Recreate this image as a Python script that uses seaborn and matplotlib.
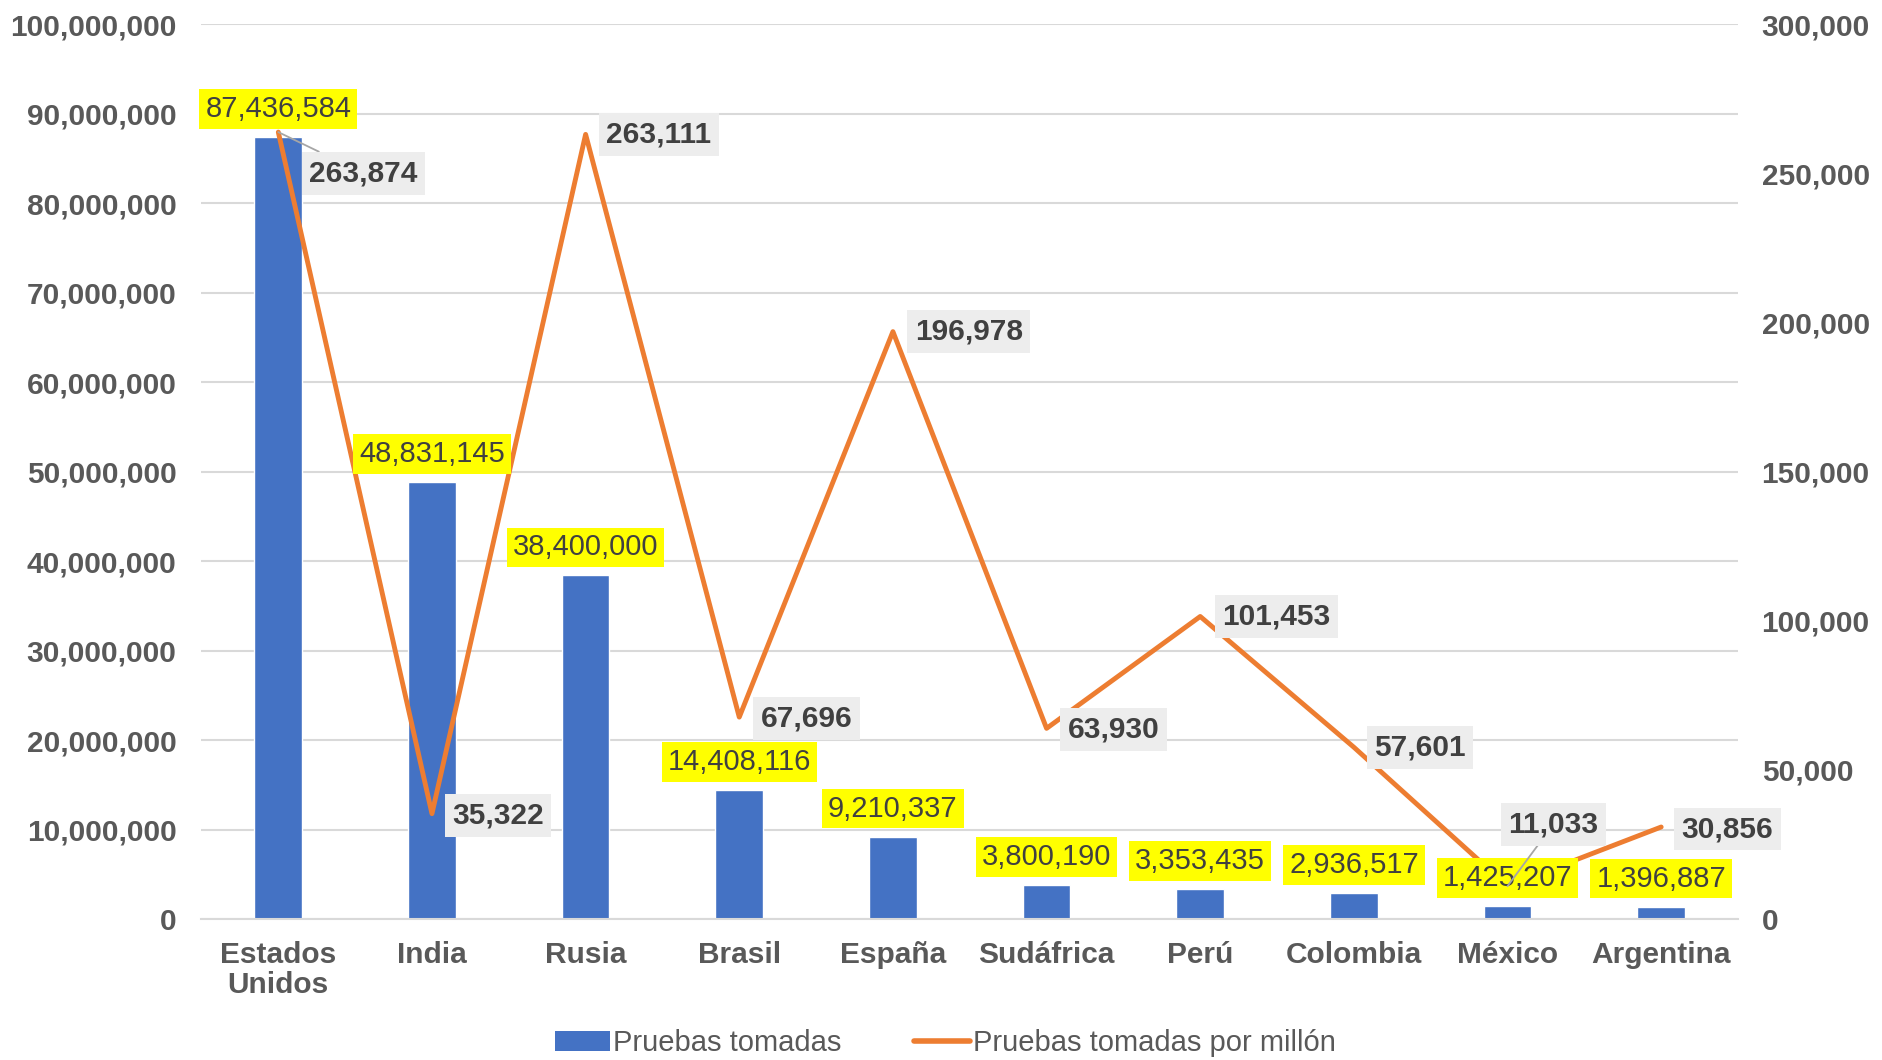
import numpy as np
import matplotlib
matplotlib.use("Agg")
import matplotlib.pyplot as plt
import seaborn as sns
from matplotlib.patches import Patch
from matplotlib.lines import Line2D
from matplotlib.ticker import FuncFormatter, MultipleLocator

# datos
paises = ["Estados\nUnidos", "India", "Rusia", "Brasil", "España",
          "Sudáfrica", "Perú", "Colombia", "México", "Argentina"]
pruebas = [87436584, 48831145, 38400000, 14408116, 9210337,
           3800190, 3353435, 2936517, 1425207, 1396887]
por_millon = [263874, 35322, 263111, 67696, 196978,
              63930, 101453, 57601, 11033, 30856]

# desplazamiento (pixeles) de las etiquetas grises de la linea
desp_linea = [(85, -41), (66, -2), (73, 0), (67, -1), (76, 0),
              (67, -1), (76, 0), (66, 0), (46, 62), (66, -2)]

sns.set_style("white")
plt.rcParams["font.family"] = ["Liberation Sans", "DejaVu Sans"]

azul = "#4472C4"
naranja = "#ED7D31"
gris_txt = "#595959"

fig = plt.figure(figsize=(18.83, 10.6), dpi=100)
ax = fig.add_axes([0.107, 0.133, 0.816, 0.844])

################ barras ################
sns.barplot(x=paises, y=pruebas, color=azul, width=0.31, saturation=1, ax=ax, zorder=2)
ax.set_ylim(0, 100_000_000)
ax.set_xlim(-0.5, len(paises) - 0.5)
ax.yaxis.set_major_locator(MultipleLocator(10_000_000))
ax.yaxis.set_major_formatter(FuncFormatter(lambda v, p: f"{int(v):,}"))
ax.grid(axis="y", color="#D9D9D9", lw=1.5, zorder=0)
ax.set_axisbelow(True)
for s in ["left", "right", "top"]:
    ax.spines[s].set_visible(False)
ax.spines["bottom"].set_color("#D9D9D9")
ax.spines["bottom"].set_linewidth(1.5)
ax.tick_params(axis="y", length=0, pad=18, labelsize=21.5, labelcolor=gris_txt)
ax.tick_params(axis="x", length=0, pad=16, labelsize=21.5, labelcolor=gris_txt)
for t in ax.get_yticklabels() + ax.get_xticklabels():
    t.set_fontweight("bold")
for t in ax.get_xticklabels():
    t.set_linespacing(1.1)
ax.set_xlabel("")
ax.set_ylabel("")

################ linea ################
ax2 = ax.twinx()
sns.lineplot(x=np.arange(len(paises)), y=por_millon, color=naranja, lw=3.5, sort=False, ax=ax2)
ax2.set_ylim(0, 300_000)
ax2.yaxis.set_major_locator(MultipleLocator(50_000))
ax2.yaxis.set_major_formatter(FuncFormatter(lambda v, p: f"{int(v):,}"))
for s in ["left", "right", "top", "bottom"]:
    ax2.spines[s].set_visible(False)
ax2.tick_params(axis="y", length=0, pad=17, labelsize=21.5, labelcolor=gris_txt)
for t in ax2.get_yticklabels():
    t.set_fontweight("bold")
ax2.set_ylabel("")

# etiquetas grises de la linea
for i, v in enumerate(por_millon):
    dx, dy = desp_linea[i]
    flecha = None
    if i in (0, 8):
        flecha = dict(arrowstyle="-", color="#A6A6A6", lw=1.3, shrinkA=0, shrinkB=0)
    ax2.annotate(f"{v:,}", xy=(i, v), xytext=(dx, dy), textcoords="offset pixels",
                 ha="center", va="center", fontsize=21.5, fontweight="bold", color="#404040",
                 bbox=dict(boxstyle="square,pad=0.25", fc="#EDEDED", ec="none"),
                 arrowprops=flecha, zorder=5)

# etiquetas amarillas de las barras
for i, v in enumerate(pruebas):
    ax2.annotate(f"{v:,}", xy=(i, v), xycoords=ax.transData, xytext=(0, 28),
                 textcoords="offset pixels", ha="center", va="center",
                 fontsize=21, color="#404040",
                 bbox=dict(boxstyle="square,pad=0.2", fc="#FFFF00", ec="none"), zorder=4)

################ leyenda ################
manijas = [Patch(facecolor=azul, edgecolor="none"),
           Line2D([0], [0], color=naranja, lw=4)]
fig.legend(manijas, ["Pruebas tomadas", "Pruebas tomadas por millón"],
           loc="center", bbox_to_anchor=(0.502, 0.016), ncol=2, frameon=False,
           prop=dict(family=["Liberation Sans"], size=21),
           labelcolor=gris_txt, handlelength=1.9, handletextpad=0.1, columnspacing=2.5)

fig.savefig("out.png", dpi=100)
